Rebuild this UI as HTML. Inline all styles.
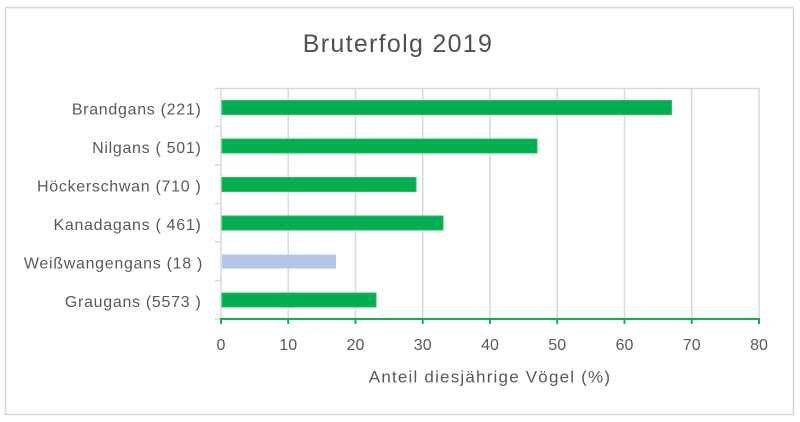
<!DOCTYPE html>
<html><head><meta charset="utf-8"><style>
html,body{margin:0;padding:0;background:#fff;width:800px;height:422px;overflow:hidden}
svg{display:block}
text{font-family:"Liberation Sans",Arial,sans-serif;fill:#595959}
</style></head><body>
<svg width="800" height="422" viewBox="0 0 800 422" xmlns="http://www.w3.org/2000/svg">
<rect x="0" y="0" width="800" height="422" fill="#fff"/>
<rect x="5.5" y="7.5" width="788" height="407" fill="#fff" stroke="#d9d9d9" stroke-width="1.6"/>
<text x="398" y="52" font-size="25" text-anchor="middle" letter-spacing="1.3" style="fill:#505050">Bruterfolg 2019</text>
<!-- gridlines -->
<g stroke="#d9d9d9" stroke-width="1.5">
<line x1="221" y1="88.5" x2="759" y2="88.5"/>
<line x1="288.2" y1="88" x2="288.2" y2="319"/>
<line x1="355.5" y1="88" x2="355.5" y2="319"/>
<line x1="422.7" y1="88" x2="422.7" y2="319"/>
<line x1="490" y1="88" x2="490" y2="319"/>
<line x1="557.2" y1="88" x2="557.2" y2="319"/>
<line x1="624.5" y1="88" x2="624.5" y2="319"/>
<line x1="691.7" y1="88" x2="691.7" y2="319"/>
<line x1="759" y1="88" x2="759" y2="319"/>
<line x1="221" y1="88" x2="221" y2="319"/>
<line x1="215" y1="88.5" x2="221" y2="88.5"/>
<line x1="215" y1="126.5" x2="221" y2="126.5"/>
<line x1="215" y1="165" x2="221" y2="165"/>
<line x1="215" y1="203.5" x2="221" y2="203.5"/>
<line x1="215" y1="242" x2="221" y2="242"/>
<line x1="215" y1="280.5" x2="221" y2="280.5"/>
<line x1="215" y1="319" x2="221" y2="319"/>
</g>
<!-- bars -->
<g stroke="#2dbb5e" stroke-width="1">
<rect x="222" y="100.5" width="449.5" height="14" fill="#00b050"/>
<rect x="222" y="139" width="315" height="14" fill="#00b050"/>
<rect x="222" y="177.5" width="194" height="14" fill="#00b050"/>
<rect x="222" y="216" width="221" height="14" fill="#00b050"/>
<rect x="222" y="293" width="154" height="14" fill="#00b050"/>
</g>
<rect x="222" y="254.5" width="114" height="14" fill="#b4c7e7"/>
<!-- x axis -->
<g stroke="#1aad4b" stroke-width="2">
<line x1="220" y1="319" x2="760" y2="319"/>
<line x1="221" y1="319" x2="221" y2="324"/>
<line x1="288.2" y1="319" x2="288.2" y2="324"/>
<line x1="355.5" y1="319" x2="355.5" y2="324"/>
<line x1="422.7" y1="319" x2="422.7" y2="324"/>
<line x1="490" y1="319" x2="490" y2="324"/>
<line x1="557.2" y1="319" x2="557.2" y2="324"/>
<line x1="624.5" y1="319" x2="624.5" y2="324"/>
<line x1="691.7" y1="319" x2="691.7" y2="324"/>
<line x1="759" y1="319" x2="759" y2="324"/>
</g>
<g font-size="16" text-anchor="middle">
<text x="221" y="350">0</text>
<text x="288.2" y="350">10</text>
<text x="355.5" y="350">20</text>
<text x="422.7" y="350">30</text>
<text x="490" y="350">40</text>
<text x="557.2" y="350">50</text>
<text x="624.5" y="350">60</text>
<text x="691.7" y="350">70</text>
<text x="759" y="350">80</text>
</g>
<g font-size="16" text-anchor="end" letter-spacing="0.7">
<text x="201.5" y="114.5">Brandgans (221)</text>
<text x="201.5" y="153">Nilgans ( 501)</text>
<text x="201.5" y="191.5">Höckerschwan (710 )</text>
<text x="201.5" y="230">Kanadagans ( 461)</text>
<text x="203" y="268.5">Weißwangengans (18 )</text>
<text x="201.5" y="307">Graugans (5573 )</text>
</g>
<text x="490" y="382.5" font-size="17" text-anchor="middle" letter-spacing="1.2">Anteil diesjährige Vögel (%)</text>
</svg>
</body></html>
